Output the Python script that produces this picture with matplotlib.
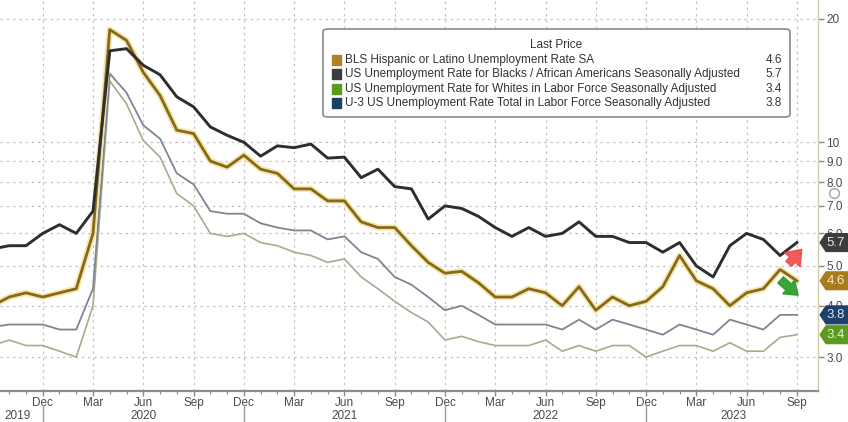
import matplotlib
matplotlib.use("Agg")
import matplotlib.pyplot as plt
import matplotlib.transforms as mtransforms
from matplotlib.patches import FancyBboxPatch, Rectangle, Polygon
from matplotlib.lines import Line2D
from matplotlib.ticker import FixedLocator, FixedFormatter, NullLocator
import numpy as np
import pandas as pd

plt.rcParams['font.family'] = ['Liberation Sans', 'DejaVu Sans']

# monthly, Sep 2019 .. Sep 2023
months = pd.date_range('2019-09-01', '2023-09-01', freq='MS')

hispanic = [4.0, 4.2, 4.3, 4.2,
            4.3, 4.4, 6.0, 18.8, 17.7, 14.8, 13.0, 10.7, 10.5, 9.0, 8.7, 9.3,
            8.6, 8.4, 7.7, 7.7, 7.2, 7.2, 6.4, 6.2, 6.2, 5.6, 5.1, 4.8,
            4.85, 4.55, 4.2, 4.2, 4.4, 4.3, 4.0, 4.45, 3.9, 4.2, 4.0, 4.1,
            4.45, 5.3, 4.6, 4.4, 4.0, 4.3, 4.4, 4.9, 4.6]
black = [5.5, 5.6, 5.6, 6.0,
         6.3, 6.0, 6.8, 16.7, 16.9, 15.4, 14.6, 12.9, 12.2, 10.9, 10.4, 10.0,
         9.25, 9.8, 9.7, 9.9, 9.15, 9.2, 8.2, 8.6, 7.8, 7.7, 6.5, 7.0,
         6.9, 6.6, 6.2, 5.9, 6.2, 5.9, 6.0, 6.4, 5.9, 5.9, 5.7, 5.7,
         5.4, 5.7, 5.0, 4.7, 5.6, 6.0, 5.8, 5.3, 5.7]
whites = [3.2, 3.3, 3.2, 3.2,
          3.1, 3.0, 4.0, 14.1, 12.4, 10.1, 9.2, 7.5, 7.0, 6.0, 5.9, 6.0,
          5.7, 5.6, 5.4, 5.3, 5.1, 5.2, 4.7, 4.4, 4.1, 3.85, 3.65, 3.3,
          3.37, 3.27, 3.2, 3.2, 3.2, 3.3, 3.1, 3.2, 3.1, 3.2, 3.2, 3.0,
          3.1, 3.2, 3.2, 3.1, 3.25, 3.1, 3.1, 3.35, 3.4]
total = [3.55, 3.6, 3.6, 3.6,
         3.5, 3.5, 4.4, 14.7, 13.2, 11.0, 10.2, 8.4, 7.9, 6.8, 6.7, 6.7,
         6.35, 6.2, 6.1, 6.1, 5.8, 5.9, 5.4, 5.2, 4.7, 4.5, 4.2, 3.9,
         4.0, 3.8, 3.6, 3.6, 3.6, 3.6, 3.5, 3.7, 3.5, 3.7, 3.6, 3.5,
         3.4, 3.6, 3.5, 3.4, 3.7, 3.6, 3.5, 3.8, 3.8]

names = ["BLS Hispanic or Latino Unemployment Rate SA",
         "US Unemployment Rate for Blacks / African Americans Seasonally Adjusted",
         "US Unemployment Rate for Whites in Labor Force Seasonally Adjusted",
         "U-3 US Unemployment Rate Total in Labor Force Seasonally Adjusted"]
last_vals = [hispanic[-1], black[-1], whites[-1], total[-1]]
swatch_cols = ['#b08224', '#3d3d3d', '#5c9c1c', '#1d3e63']
tag_cols = ['#a87b1e', '#3c3c3c', '#5a9a1e', '#1c4068']
tag_text = ['#f6e8c8', '#e8e8e8', '#e8f2d8', '#dde6f0']

ytick_vals = [3, 4, 5, 6, 7, 8, 9, 10, 20]
ytick_labels = ['3.0', '4.0', '5.0', '6.0', '7.0', '8.0', '9.0', '10', '20']

x = np.arange(len(months)) - 1

fig = plt.figure(figsize=(8.48, 4.22), dpi=100)
ax = fig.add_axes([0.0, 1 - 391/422, 818/848, 391/422])

gl = dict(color='#c4c4c4', lw=0.9, ls=(0, (2, 3)))
qidx = [i for i, m in zip(x, months) if m.month in (3, 6, 9, 12)]
for q in qidx:
    ax.axvline(q, zorder=0, **gl)
for v in ytick_vals:
    ax.axhline(v, zorder=0, **gl)

ax.plot(x, whites, color='#a7ab8b', lw=1.2, zorder=2)
ax.plot(x, total, color='#7c8793', lw=1.3, zorder=3)
ax.plot(x, hispanic, color='#f4e6ad', lw=4.5, zorder=4, solid_capstyle='round')
ax.plot(x, hispanic, color='#86691a', lw=2.0, zorder=5)
ax.plot(x, black, color='#2e2e2e', lw=2.1, zorder=6)

ax.set_yscale('log')
ax.set_ylim(2.48, 22.2)
ax.set_xlim(-0.55, 48.26)

ax.yaxis.tick_right()
ax.yaxis.set_major_locator(FixedLocator(ytick_vals))
ax.yaxis.set_major_formatter(FixedFormatter(ytick_labels))
ax.yaxis.set_minor_locator(NullLocator())
ax.tick_params(axis='y', which='major', direction='out', length=4, width=1,
               color='#888888', labelsize=8.5, labelcolor='#4a4a4a', pad=2)

ax.xaxis.set_major_locator(FixedLocator(qidx))
ax.xaxis.set_major_formatter(FixedFormatter([months[i + 1].strftime('%b') for i in qidx]))
ax.xaxis.set_minor_locator(FixedLocator(list(x)))
ax.tick_params(axis='x', which='major', direction='out', length=3.5, width=1,
               color='#8c8c8c', labelsize=8.5, labelcolor='#4a4a4a', pad=0.5)
ax.tick_params(axis='x', which='minor', direction='out', length=2.5, width=0.8,
               color='#8c8c8c')

for s in ['left', 'top']:
    ax.spines[s].set_visible(False)
ax.spines['bottom'].set_color('#8c8c8c')
ax.spines['bottom'].set_linewidth(1.6)
ax.spines['right'].set_color('#d3cba3')
ax.spines['right'].set_linewidth(1.0)

# year labels and separators
trans = mtransforms.blended_transform_factory(ax.transData, ax.transAxes)
year_pos = {2019: 0.5, 2020: 8, 2021: 20, 2022: 32, 2023: 43.2}
for yr, p in year_pos.items():
    ax.text(p, -0.063, str(yr), transform=trans, ha='center', va='center',
            fontsize=8.5, color='#4a4a4a')
for i, m in zip(x, months):
    if m.month == 12:
        ax.plot([i, i], [-0.036, -0.09], transform=trans, clip_on=False,
                color='#9a9a9a', lw=1)

# last-value tags on the right (pointed boxes, sizes in inches)
transr = mtransforms.blended_transform_factory(ax.transAxes, ax.transData)
tag_shape = [(0.02, 0.0), (0.08, 0.09), (0.34, 0.09), (0.34, -0.09), (0.08, -0.09)]
for v, c, tc in zip(last_vals, tag_cols, tag_text):
    tt = fig.dpi_scale_trans + mtransforms.ScaledTranslation(1.0, v, transr)
    ax.add_patch(Polygon(tag_shape, closed=True, transform=tt, fc=c, ec=c,
                         lw=0.8, clip_on=False, zorder=10))
    ax.text(0.18, 0.0, f"{v:.1f}", transform=tt, ha='center', va='center',
            fontsize=9.5, color=tc, clip_on=False, zorder=11)

# arrows
ax.annotate('', xy=(47.4, 5.55), xytext=(46.4, 5.0),
            arrowprops=dict(arrowstyle='simple,head_width=1.5,head_length=1.0,tail_width=0.55',
                            color='#ee4a4a', alpha=0.9), zorder=9)
ax.annotate('', xy=(47.2, 4.2), xytext=(45.9, 4.67),
            arrowprops=dict(arrowstyle='simple,head_width=1.3,head_length=0.9,tail_width=0.6',
                            color='#2f9e2f', alpha=0.95), zorder=9)

# small circle marker near the axis
fig.add_artist(Line2D([834/848], [1 - 193/422], marker='o', ms=7, mfc='white',
                      mec='#b0b0b0', mew=1.2, transform=fig.transFigure))

# legend box
lx0, lx1 = 323/848, 790/848
ly0, ly1 = 1 - 117/422, 1 - 29/422
fig.patches.append(FancyBboxPatch((lx0, ly0), lx1 - lx0, ly1 - ly0,
                                  boxstyle='round,pad=0,rounding_size=0.006',
                                  transform=fig.transFigure, fc='white',
                                  ec='#8a8a8a', lw=1.2, zorder=20))
fig.text(556/848, 1 - 45/422, 'Last Price', ha='center', va='center',
         fontsize=8.5, color='#333333', zorder=21)
rows = [60, 74, 89, 103]
for r, nm, v, c in zip(rows, names, last_vals, swatch_cols):
    yy = 1 - r/422
    fig.patches.append(Rectangle((332/848, yy - 4.5/422), 9/848, 9/422,
                                 transform=fig.transFigure, fc=c, ec=c,
                                 zorder=21))
    fig.text(345/848, yy, nm, ha='left', va='center', fontsize=8.5,
             color='#333333', zorder=21)
    fig.text(782/848, yy, f"{v:.1f}", ha='right', va='center', fontsize=8.5,
             color='#333333', zorder=21)

fig.savefig('out.png', dpi=100, facecolor='white')
